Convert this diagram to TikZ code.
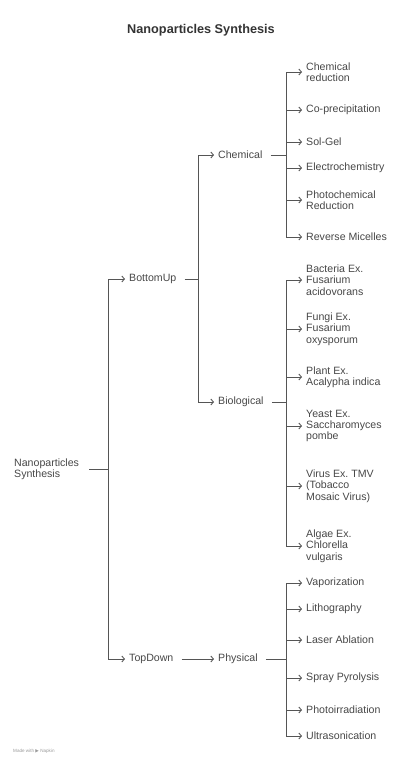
\documentclass[tikz,border=0pt]{standalone}
\usepackage{fontspec}
\setmainfont{Liberation Sans}
\newfontfamily\symfont{DejaVu Sans}
\usepackage{tikz}
\usetikzlibrary{arrows.meta, positioning}
\definecolor{titlegray}{HTML}{333333}
\definecolor{inkgray}{HTML}{474747}
\definecolor{linegray}{HTML}{555555}
\definecolor{footgray}{HTML}{9A9A9A}
\frenchspacing

\begin{document}
\begin{tikzpicture}[
    x=1pt, y=-1pt,
    heading/.style={font=\fontsize{12.7}{14}\selectfont\bfseries, text=titlegray, inner sep=0pt},
    item/.style={anchor=west, inner sep=0pt, align=left, font=\fontsize{10.6}{11.3}\selectfont, text=inkgray},
    link/.style={draw=linegray, line width=0.9pt},
    arrow/.style={link, -{Straight Barb[length=2.6pt,width=6pt]}, shorten >=4pt},
    feeder/.style={link, shorten <=8pt}
]
\useasboundingbox (0,0) rectangle (402,764);

% Title
\node[heading] (title) at (201,30) {Nanoparticles Synthesis};

% Root and first level
\node[item] (root) at (14,469) {Nanoparticles\\Synthesis};
\node[item] (bottomup) at (129,279) {BottomUp};
\node[item] (topdown) at (129,659) {TopDown};

% Second level
\node[item] (chemical) at (218,155) {Chemical};
\node[item] (biological) at (218,402) {Biological};
\node[item] (physical) at (218,659) {Physical};

% Chemical methods
\node[item] (chemred) at (306,72) {Chemical\\reduction};
\node[item] (coprec) at (306,110) {Co-precipitation};
\node[item] (solgel) at (306,142) {Sol-Gel};
\node[item] (electro) at (306,168) {Electrochemistry};
\node[item] (photored) at (306,200) {Photochemical\\Reduction};
\node[item] (revmic) at (306,237) {Reverse Micelles};

% Biological methods
\node[item] (bacteria) at (306,280) {Bacteria Ex.\\Fusarium\\acidovorans};
\node[item] (fungi) at (306,329) {Fungi Ex.\\Fusarium\\oxysporum};
\node[item] (plant) at (306,377) {Plant Ex.\\Acalypha indica};
\node[item] (yeast) at (306,426) {Yeast Ex.\\Saccharomyces\\pombe};
\node[item] (virus) at (306,486) {Virus Ex. TMV\\(Tobacco\\Mosaic Virus)};
\node[item] (algae) at (306,546) {Algae Ex.\\Chlorella\\vulgaris};

% Physical methods
\node[item] (vapor) at (306,583) {Vaporization};
\node[item] (litho) at (306,609) {Lithography};
\node[item] (laser) at (306,640) {Laser Ablation};
\node[item] (spray) at (306,678) {Spray Pyrolysis};
\node[item] (photoirr) at (306,710) {Photoirradiation};
\node[item] (ultra) at (306,736) {Ultrasonication};

% Branch points
\coordinate (jroot) at (108,469);
\coordinate (jbu) at (198,279);
\coordinate (jchem) at (286,155);
\coordinate (jbio) at (286,402);
\coordinate (jphys) at (286,659);

% Root branch
\draw[link, shorten <=10pt] (root) -- (jroot);
\draw[arrow] (jroot) |- (bottomup);
\draw[arrow] (jroot) |- (topdown);

% BottomUp branch
\draw[feeder] (bottomup) -- (jbu);
\draw[arrow] (jbu) |- (chemical);
\draw[arrow] (jbu) |- (biological);

% TopDown branch
\draw[arrow, shorten <=8pt] (topdown) -- (physical);

% Chemical leaves
\draw[feeder] (chemical) -- (jchem);
\foreach \leaf in {chemred, coprec, solgel, electro, photored, revmic}
    \draw[arrow] (jchem) |- (\leaf);

% Biological leaves
\draw[feeder] (biological) -- (jbio);
\foreach \leaf in {bacteria, fungi, plant, yeast, virus, algae}
    \draw[arrow] (jbio) |- (\leaf);

% Physical leaves
\draw[feeder] (physical) -- (jphys);
\foreach \leaf in {vapor, litho, laser, spray, photoirr, ultra}
    \draw[arrow] (jphys) |- (\leaf);

% Footer
\node[anchor=west, inner sep=0pt, font=\fontsize{4.6}{5}\selectfont, text=footgray] (footer) at (13,751) {Made with {\symfont ▶} Napkin};

\end{tikzpicture}
\end{document}
